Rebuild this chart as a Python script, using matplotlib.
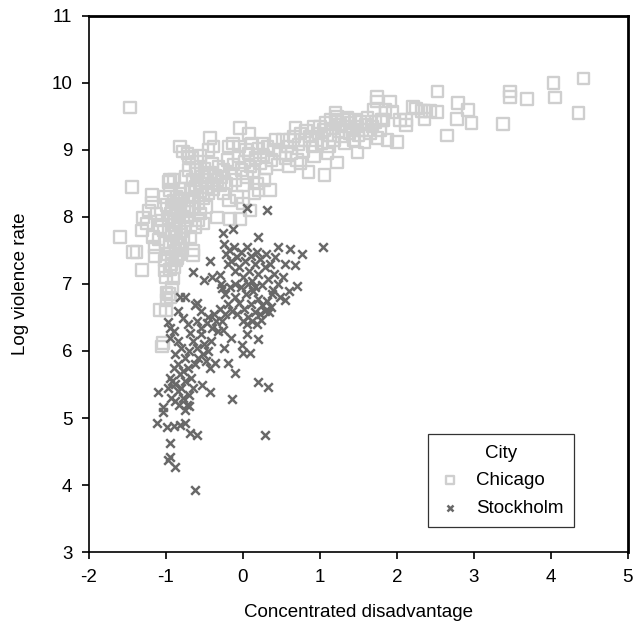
import numpy as np
import matplotlib.pyplot as plt

plt.rcParams['font.family'] = ['Liberation Sans', 'DejaVu Sans']
plt.rcParams['axes.unicode_minus'] = False

# Chicago neighbourhoods (concentrated disadvantage, log violence rate)
chicago = [
    (-1.47, 9.63), (-1.44, 8.45), (-1.60, 7.70), (-1.43, 7.48), (-1.38, 7.48), (-1.31, 7.21),
    (-1.30, 7.99), (-1.31, 7.80), (-1.18, 8.33), (-1.18, 8.22), (-1.17, 7.70), (-1.10, 7.66),
    (-1.14, 7.42), (-1.01, 7.20), (-1.00, 7.10), (-0.99, 6.87), (-0.99, 6.76), (-1.08, 6.61),
    (-1.00, 6.61), (-1.04, 6.12), (-1.05, 6.07), (-0.95, 8.55), (-0.90, 8.55), (-0.97, 8.52),
    (-1.25, 7.90), (-1.22, 8.10), (-1.12, 8.05), (-1.08, 7.85), (-1.05, 7.95), (-1.15, 7.55),
    (-1.02, 7.35), (-0.98, 7.45), (-0.95, 7.55), (-0.92, 7.40), (-0.90, 7.62), (-0.88, 7.50),
    (-0.86, 7.70), (-0.84, 7.58), (-0.96, 7.80), (-0.93, 7.75), (-0.91, 7.88), (-0.89, 7.95),
    (-0.87, 7.82), (-0.85, 8.02), (-0.83, 7.90), (-0.81, 8.10), (-0.80, 7.78), (-0.78, 8.00),
    (-0.76, 8.15), (-0.94, 8.05), (-0.92, 8.15), (-0.90, 8.25), (-0.88, 8.10), (-0.86, 8.30),
    (-0.84, 8.20), (-0.82, 8.35), (-0.80, 8.28), (-0.78, 8.42), (-1.00, 7.62), (-1.03, 7.80),
    (-0.97, 7.98), (-0.99, 8.18), (-1.01, 8.30), (-0.95, 8.40), (-0.93, 7.30), (-0.89, 7.25),
    (-0.87, 7.35), (-0.85, 7.38), (-0.83, 7.45), (-0.81, 7.60), (-0.79, 7.52), (-0.77, 7.68),
    (-0.75, 7.85), (-0.73, 7.95), (-0.72, 8.08), (-0.95, 7.22), (-0.92, 6.95), (-0.90, 7.08),
    (-0.96, 6.85), (-0.94, 6.80),
    (-0.70, 8.25), (-0.68, 8.40), (-0.66, 8.15), (-0.65, 8.55), (-0.63, 8.30), (-0.61, 8.45),
    (-0.60, 8.65), (-0.58, 8.20), (-0.56, 8.50), (-0.55, 8.38), (-0.53, 8.60), (-0.51, 8.28),
    (-0.50, 8.72), (-0.48, 8.45), (-0.46, 8.55), (-0.45, 8.35), (-0.43, 8.66), (-0.41, 8.50),
    (-0.40, 8.80), (-0.38, 8.42), (-0.36, 8.62), (-0.34, 8.55), (-0.32, 8.75), (-0.30, 8.48),
    (-0.65, 7.50), (-0.65, 7.43), (-0.68, 7.70), (-0.62, 7.85), (-0.58, 7.95), (-0.55, 8.05),
    (-0.52, 7.90), (-0.34, 7.99), (-0.48, 8.15), (-0.82, 9.05), (-0.78, 8.98), (-0.72, 8.95),
    (-0.70, 8.90), (-0.66, 8.88), (-0.60, 8.82), (-0.55, 8.92), (-0.43, 9.18), (-0.45, 9.00),
    (-0.38, 9.05), (-0.70, 8.70), (-0.74, 8.60), (-0.62, 8.70),
    (-0.28, 8.60), (-0.25, 8.70), (-0.22, 8.50), (-0.20, 8.85), (-0.19, 9.05), (-0.17, 7.97),
    (-0.15, 8.65), (-0.12, 8.78), (-0.10, 8.55), (-0.08, 8.30), (-0.06, 8.90), (-0.04, 9.33),
    (-0.04, 7.97), (-0.02, 8.70), (0.00, 8.20), (0.02, 8.82), (0.04, 9.00), (0.05, 8.60),
    (0.07, 8.95), (0.09, 8.10), (0.10, 8.75), (0.12, 9.10), (0.14, 8.68), (0.16, 8.88),
    (0.18, 8.50), (0.20, 9.02), (0.22, 8.80), (0.25, 9.10), (0.27, 8.92), (0.30, 8.72),
    (0.32, 9.05), (0.35, 8.40), (0.37, 8.85), (0.40, 9.00), (0.42, 9.15), (0.45, 8.78),
    (0.48, 8.95), (-0.25, 8.35), (-0.18, 8.25), (-0.13, 9.10), (-0.05, 9.05), (0.08, 9.25),
    (0.20, 8.40), (0.28, 8.55), (0.15, 8.35), (0.00, 8.48),
    (0.52, 9.15), (0.55, 8.88), (0.58, 9.05), (0.61, 9.15), (0.63, 8.95), (0.66, 9.20),
    (0.68, 9.33), (0.70, 8.85), (0.72, 9.08), (0.75, 9.25), (0.78, 8.98), (0.80, 9.15),
    (0.82, 9.28), (0.85, 8.67), (0.87, 9.20), (0.90, 9.05), (0.92, 9.35), (0.95, 9.15),
    (0.98, 9.25), (1.00, 9.35), (0.60, 8.75), (0.75, 8.80), (0.92, 8.90),
    (1.02, 9.10), (1.05, 9.30), (1.06, 8.63), (1.08, 9.40), (1.10, 9.22), (1.12, 9.05),
    (1.14, 9.45), (1.16, 9.32), (1.18, 9.15), (1.20, 9.42), (1.22, 9.50), (1.22, 8.81),
    (1.24, 9.28), (1.26, 9.38), (1.28, 9.20), (1.30, 9.45), (1.32, 9.10), (1.34, 9.35),
    (1.36, 9.48), (1.38, 9.25), (1.40, 9.40), (1.42, 9.30), (1.44, 9.15), (1.46, 9.45),
    (1.48, 9.35), (1.49, 8.96), (1.50, 9.22), (1.52, 9.42), (1.55, 9.30), (1.58, 9.12),
    (1.60, 9.38), (1.62, 9.48), (1.65, 9.25), (1.68, 9.35), (1.70, 9.60), (1.72, 9.42),
    (1.74, 9.79), (1.74, 9.72), (1.75, 9.18), (1.78, 9.30), (1.80, 9.45), (1.82, 9.45),
    (1.85, 9.60), (1.88, 9.15), (1.91, 9.72), (1.94, 9.57), (1.20, 9.55), (1.10, 8.95),
    (2.00, 9.12), (2.04, 9.45), (2.12, 9.45), (2.12, 9.37), (2.21, 9.64), (2.25, 9.62),
    (2.32, 9.58), (2.36, 9.58), (2.43, 9.58), (2.36, 9.46), (2.53, 9.87), (2.53, 9.57),
    (2.65, 9.22), (2.78, 9.46), (2.79, 9.70), (2.92, 9.60), (2.97, 9.40), (3.38, 9.39),
    (3.47, 9.87), (3.47, 9.79), (3.69, 9.76), (4.03, 10.00), (4.05, 9.78), (4.36, 9.55),
    (4.42, 10.07),
]

# Stockholm neighbourhoods
stockholm = [
    (0.05, 8.13), (0.31, 8.10), (-0.13, 7.82), (-0.26, 7.76), (0.19, 7.70), (0.45, 7.55),
    (0.61, 7.52), (0.77, 7.45), (1.04, 7.55), (0.68, 7.28), (0.52, 7.10), (0.70, 6.97),
    (0.55, 6.76), (0.39, 6.91),
    (-0.25, 7.60), (-0.22, 7.45), (-0.20, 7.30), (-0.18, 7.50), (-0.15, 7.35), (-0.12, 7.55),
    (-0.10, 7.20), (-0.08, 7.40), (-0.05, 7.25), (-0.02, 7.48), (0.00, 7.10), (0.02, 7.35),
    (0.05, 7.55), (0.08, 7.20), (0.10, 7.42), (0.12, 7.05), (0.15, 7.30), (0.18, 7.48),
    (0.20, 7.15), (0.22, 7.38), (0.25, 6.98), (0.28, 7.25), (0.30, 7.45), (0.33, 7.08),
    (0.35, 7.30), (0.38, 6.85), (0.40, 7.15), (0.42, 7.40), (-0.28, 7.00), (-0.24, 6.85),
    (-0.20, 6.70), (-0.17, 6.95), (-0.14, 6.60), (-0.11, 6.80), (-0.08, 6.55), (-0.05, 6.72),
    (-0.02, 6.95), (0.01, 6.62), (0.04, 6.85), (0.07, 6.50), (0.10, 6.70), (0.13, 6.90),
    (0.16, 6.58), (0.19, 6.78), (0.22, 6.55), (0.25, 6.68), (0.28, 6.60), (0.31, 6.75),
    (0.34, 6.58), (0.37, 6.65), (-0.30, 6.62), (-0.27, 6.45), (-0.23, 6.55), (0.00, 6.45),
    (0.05, 6.40), (0.12, 6.45), (0.18, 6.40), (0.24, 6.46), (-0.10, 7.00), (0.06, 7.00),
    (0.15, 6.95), (0.55, 7.30), (0.60, 6.90), (0.48, 6.80), (0.45, 7.00),
    (-0.43, 7.34), (-0.65, 7.18), (-0.50, 7.06), (-0.40, 7.10), (-0.30, 7.13), (-0.27, 6.94),
    (-0.82, 6.80), (-0.75, 6.80), (-0.62, 6.69), (-0.60, 6.72), (-0.55, 6.60), (-0.45, 6.50),
    (-0.40, 6.35), (-0.38, 6.55), (-0.35, 6.45), (-0.32, 6.30), (-0.47, 6.42), (-0.26, 6.31),
    (-0.78, 6.49), (-0.97, 6.43), (-0.95, 6.34), (-0.95, 6.20), (-0.69, 6.27), (-0.72, 6.40),
    (-0.65, 6.15), (-0.60, 6.05), (-0.55, 6.25), (-0.50, 6.10), (-0.52, 5.95), (-0.45, 6.00),
    (-0.42, 6.15), (-0.48, 5.85), (-0.58, 5.90), (-0.62, 5.80), (-0.70, 6.00), (-0.75, 5.90),
    (-0.80, 6.05), (-0.85, 6.15), (-0.88, 5.95), (-0.90, 5.75), (-0.85, 5.80), (-0.82, 5.65),
    (-0.78, 5.70), (-0.75, 5.55), (-0.72, 5.75), (-0.68, 5.60), (-0.65, 5.45), (-0.92, 5.55),
    (-0.88, 5.50), (-0.85, 5.40), (-0.80, 5.45), (-0.95, 5.60), (-0.98, 5.45), (-0.93, 5.30),
    (-0.88, 5.25), (-0.83, 5.20), (-0.78, 5.30), (-0.70, 5.35), (-0.36, 5.82), (-0.43, 5.75),
    (-0.53, 5.49), (-0.43, 5.39), (-0.19, 5.82), (-0.10, 5.67), (-0.14, 5.28), (-0.01, 6.09),
    (0.19, 6.18), (0.00, 5.97), (0.09, 5.97), (0.19, 5.54), (0.32, 5.46), (0.29, 4.75),
    (-1.10, 5.39), (-1.04, 5.16), (-1.04, 5.09), (-1.12, 4.92), (-0.99, 4.86), (-0.90, 4.88),
    (-0.82, 4.90), (-0.75, 4.92), (-0.69, 4.77), (-0.60, 4.75), (-0.95, 4.63), (-0.95, 4.42),
    (-0.97, 4.37), (-0.88, 4.27), (-0.62, 3.93), (-0.73, 5.20), (-0.75, 5.12), (-0.70, 5.18),
    (-0.55, 6.35), (-0.60, 6.45), (-0.85, 6.60), (-0.90, 6.30), (-0.15, 6.20), (-0.25, 6.05),
    (0.05, 6.25),
]

chi = np.array(chicago)
sto = np.array(stockholm)

fig = plt.figure(figsize=(6.33, 6.29), dpi=100)
ax = fig.add_axes([0.1406, 0.1224, 0.8514, 0.8522])

sq = ax.scatter(chi[:, 0], chi[:, 1], marker='s', s=68, facecolors='none',
                edgecolors='#cfcfcf', linewidths=1.7, label='Chicago', zorder=2)
sq.set_joinstyle('round')
ax.scatter(sto[:, 0], sto[:, 1], marker='x', s=38, c='#686868',
           linewidths=1.8, label='Stockholm', zorder=3)

ax.set_xlim(-2, 5)
ax.set_ylim(3, 11)
ax.set_xticks(range(-2, 6))
ax.set_yticks(range(3, 12))
ax.tick_params(direction='out', length=5, width=1.2, labelsize=13.5, pad=7,
               top=False, right=False)
for s in ax.spines.values():
    s.set_linewidth(1.2)
ax.spines['top'].set_linewidth(2.0)
ax.spines['right'].set_linewidth(2.0)

ax.set_xlabel('Concentrated disadvantage', fontsize=13.5, labelpad=13)
ax.set_ylabel('Log violence rate', fontsize=13.5, labelpad=16)

leg = ax.legend(title='City', loc='lower left', bbox_to_anchor=(0.629, 0.047),
                borderaxespad=0, fontsize=13.5, title_fontsize=13.5,
                frameon=True, fancybox=False, edgecolor='black', markerscale=0.7,
                handletextpad=0.8, borderpad=0.55, handlelength=1.2,
                labelspacing=0.55)
leg.get_frame().set_linewidth(0.9)

fig.savefig('out.png', dpi=100)
